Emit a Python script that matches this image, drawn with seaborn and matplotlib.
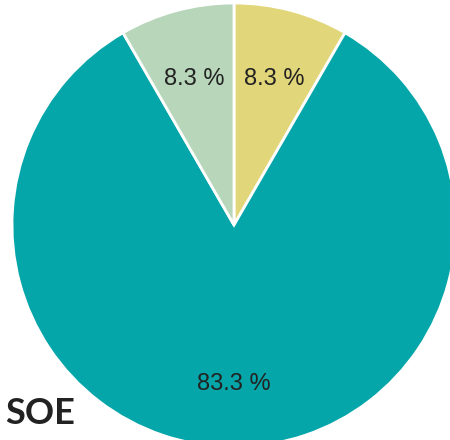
import matplotlib
matplotlib.use("Agg")
import matplotlib.pyplot as plt
import matplotlib.transforms as mtransforms
import seaborn as sns

# Data
categories = ["A", "B", "C"]
counts = [1, 10, 1]
colors = ["#E2D67A", "#05A6A9", "#B8D6BA"]
title = "SOE"

sns.set_theme(style="white")
plt.rcParams["font.family"] = ["Liberation Sans", "DejaVu Sans"]

fig = plt.figure(figsize=(4.5, 4.4), dpi=100)
ax = fig.add_axes([12 / 450, -7 / 440, 444 / 450, 444 / 440])

wedges, texts, autotexts = ax.pie(
    counts,
    colors=sns.color_palette(colors),
    startangle=90,
    counterclock=False,
    autopct=lambda p: f"{p:.1f} %",
    pctdistance=0.7,
    wedgeprops=dict(edgecolor="white", linewidth=2),
    textprops=dict(fontsize=17, color="#222222"),
)
# labels sit a touch lower in the original
shift = mtransforms.offset_copy(ax.transData, fig=fig, y=-4, units="dots")
for t in autotexts:
    t.set_transform(shift)

ax.set_xlim(-1, 1)
ax.set_ylim(-1, 1)
ax.set_aspect("equal")
ax.axis("off")

fig.text(5 / 450, 1 - 413 / 440, title, fontsize=26, fontweight="bold",
         color="#222222", family=["Lato", "DejaVu Sans"], va="center", ha="left")

fig.savefig("out.png", dpi=100)
